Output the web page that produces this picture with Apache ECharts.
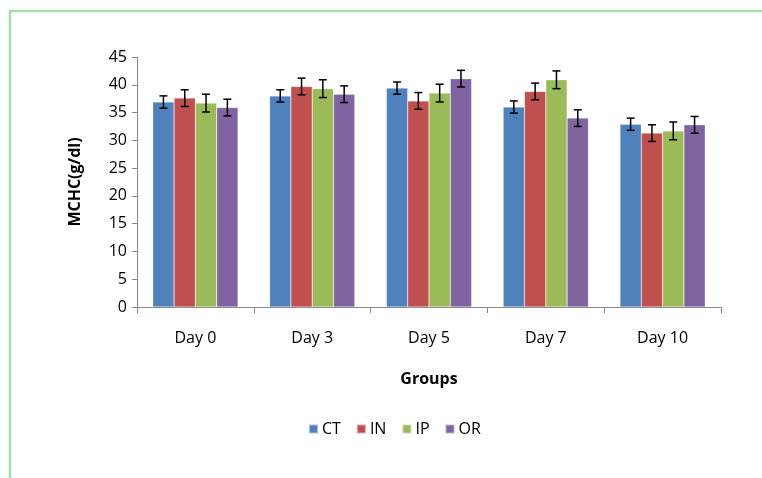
<!DOCTYPE html>
<html>
<head>
<meta charset="utf-8">
<script src="https://cdn.jsdelivr.net/npm/echarts@6/dist/echarts.min.js"></script>
<style>html,body{margin:0;padding:0;background:#fff}#c{width:762px;height:478px}</style>
</head>
<body>
<div id="c"></div>
<script>
const categories = ['Day 0', 'Day 3', 'Day 5', 'Day 7', 'Day 10'];
const seriesNames = ['CT', 'IN', 'IP', 'OR'];
const ctValues = [36.9, 38.0, 39.4, 36.0, 32.9];
const inValues = [37.6, 39.7, 37.1, 38.8, 31.3];
const ipValues = [36.7, 39.3, 38.5, 40.9, 31.7];
const orValues = [35.9, 38.3, 41.1, 34.0, 32.8];
const ctErr = [1.1, 1.1, 1.1, 1.1, 1.1];
const inErr = [1.5, 1.5, 1.5, 1.5, 1.5];
const ipErr = [1.6, 1.6, 1.6, 1.6, 1.6];
const orErr = [1.5, 1.5, 1.5, 1.5, 1.5];
const yTicks = [0, 5, 10, 15, 20, 25, 30, 35, 40, 45];
const colors = ['#4F81BD', '#C0504D', '#9BBB59', '#8064A2'];

const values = [ctValues, inValues, ipValues, orValues];
const errs = [ctErr, inErr, ipErr, orErr];
const gapRatio = 0.27;
const font = '"Open Sans", "Noto Sans", sans-serif';
const fs = 16;

const chart = echarts.init(document.getElementById('c'), null, {renderer: 'canvas'});

const barSeries = seriesNames.map((n, i) => ({
  name: n,
  type: 'bar',
  data: values[i],
  barGap: '0%',
  barCategoryGap: (gapRatio * 100) + '%',
  itemStyle: {color: colors[i], borderColor: 'rgba(255,255,255,0.5)', borderWidth: 0.5},
  z: 2
}));

const errSeries = seriesNames.map((n, i) => ({
  type: 'custom',
  name: n + ' err',
  data: values[i].map((v, j) => [j, v, errs[i][j]]),
  z: 5,
  silent: true,
  renderItem: function (params, api) {
    const x = api.value(0), v = api.value(1), e = api.value(2);
    const band = api.size([1, 0])[0];
    const bw = band * (1 - gapRatio) / 4;
    const c = api.coord([x, v]);
    const cx = c[0] + (i - 1.5) * bw;
    const top = api.coord([x, v + e])[1];
    const bot = api.coord([x, v - e])[1];
    const hw = 4;
    const st = {stroke: '#000', lineWidth: 1.5};
    return {
      type: 'group',
      children: [
        {type: 'line', shape: {x1: cx, y1: top, x2: cx, y2: bot}, style: st},
        {type: 'line', shape: {x1: cx - hw, y1: top, x2: cx + hw, y2: top}, style: st},
        {type: 'line', shape: {x1: cx - hw, y1: bot, x2: cx + hw, y2: bot}, style: st}
      ]
    };
  }
}));

chart.setOption({
  animation: false,
  color: colors,
  textStyle: {fontFamily: font},
  graphic: [{
    type: 'rect',
    shape: {x: 10, y: 11, width: 800, height: 520},
    style: {fill: 'none', stroke: '#a6dbab', lineWidth: 2.5},
    z: 0
  }],
  grid: {left: 137, right: 41, top: 57, bottom: 171, containLabel: false},
  legend: {
    data: seriesNames,
    bottom: 36,
    left: 303,
    icon: 'rect',
    itemWidth: 9,
    itemHeight: 9,
    itemGap: 15,
    textStyle: {fontFamily: font, fontSize: fs, color: '#000', padding: [0, 0, 0, -1]}
  },
  xAxis: {
    type: 'category',
    data: categories,
    name: 'Groups',
    nameLocation: 'middle',
    nameGap: 64,
    nameTextStyle: {fontFamily: font, fontSize: fs, fontWeight: 'bold', color: '#000'},
    axisLine: {lineStyle: {color: '#888', width: 1}},
    axisTick: {show: true, length: 6, lineStyle: {color: '#888'}},
    axisLabel: {fontFamily: font, fontSize: fs, color: '#000', margin: 23},
    splitLine: {show: false}
  },
  yAxis: {
    type: 'value',
    min: yTicks[0],
    max: yTicks[yTicks.length - 1],
    interval: 5,
    name: 'MCHC(g/dl)',
    nameLocation: 'middle',
    nameGap: 54,
    nameRotate: 90,
    nameTextStyle: {fontFamily: font, fontSize: fs, fontWeight: 'bold', color: '#000'},
    axisLine: {show: true, lineStyle: {color: '#888', width: 1}},
    axisTick: {show: true, length: 5, lineStyle: {color: '#888'}},
    axisLabel: {fontFamily: font, fontSize: fs, color: '#000', margin: 10},
    splitLine: {show: false}
  },
  series: barSeries.concat(errSeries)
});
</script>
</body>
</html>
